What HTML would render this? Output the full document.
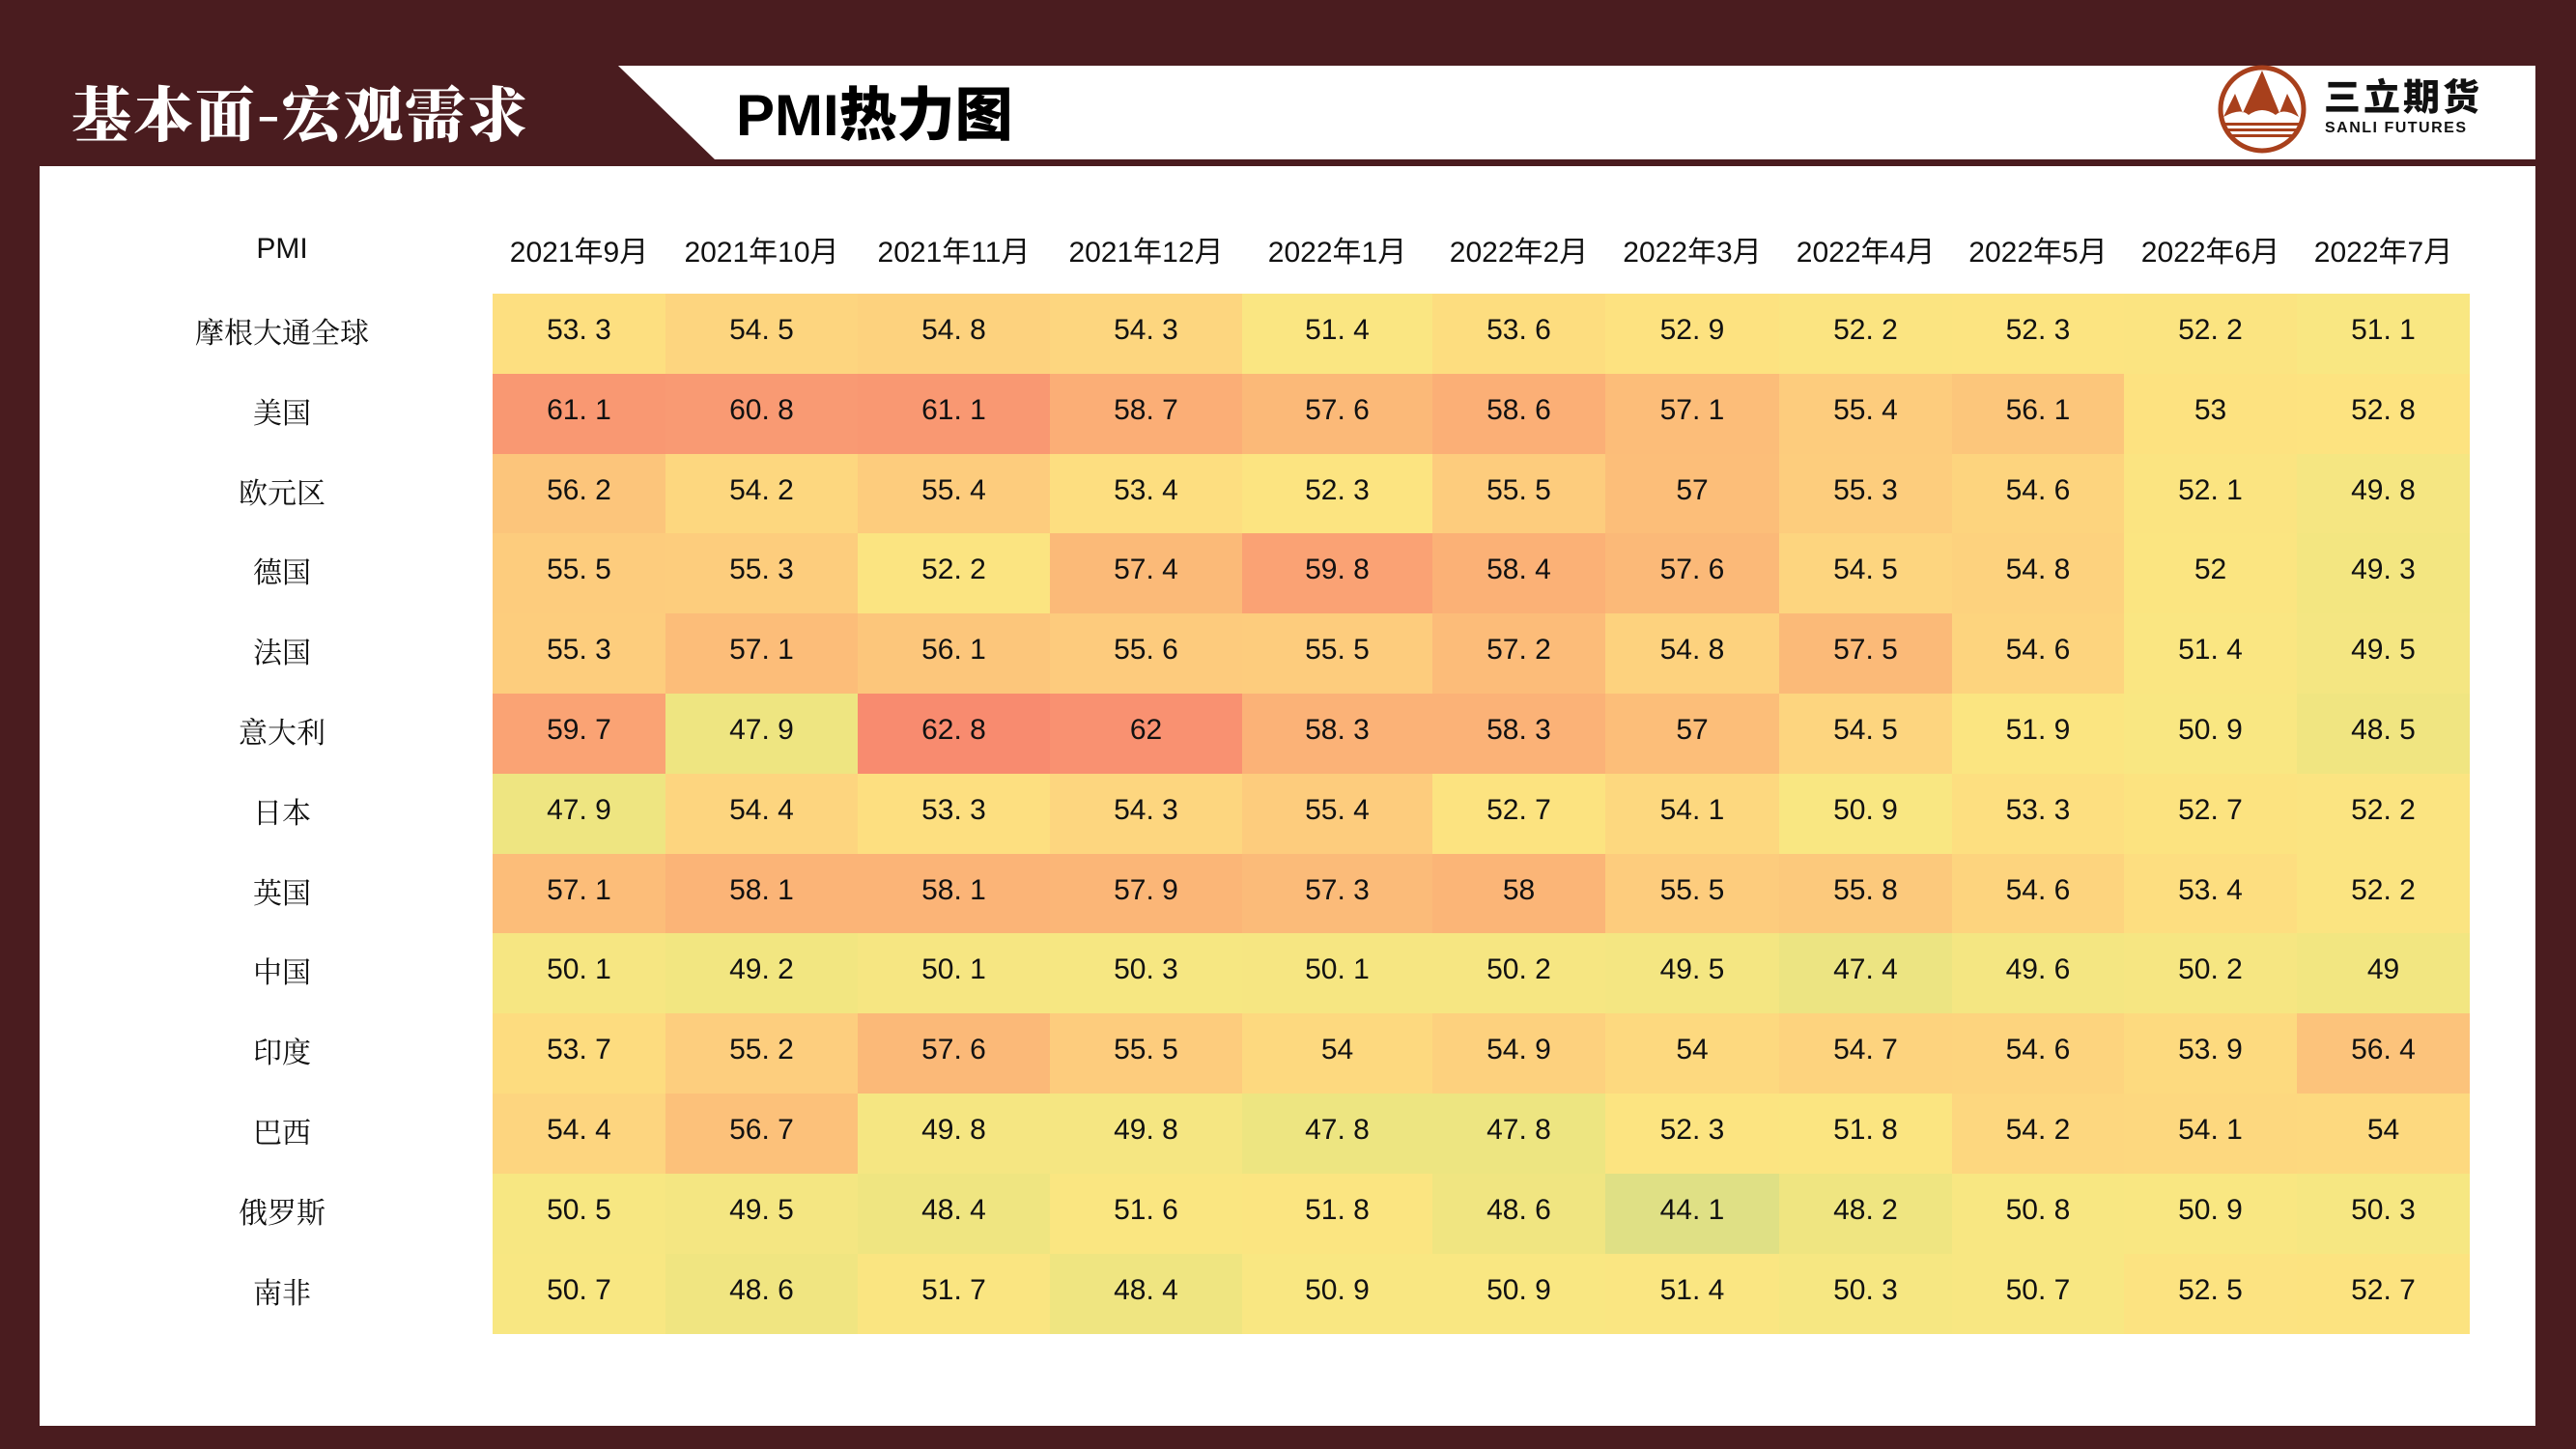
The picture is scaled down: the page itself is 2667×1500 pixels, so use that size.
<!DOCTYPE html>
<html><head><meta charset="utf-8">
<style>
body{margin:0;width:2667px;height:1500px;background:#4a1c1f;position:relative;overflow:hidden;font-family:"Liberation Sans","Noto Sans CJK SC",sans-serif;}
.panel{position:absolute;left:41px;top:172px;width:2584px;height:1304px;background:#fff;}
.band{position:absolute;left:640px;top:68px;width:1985px;height:97px;background:#fff;clip-path:polygon(0 0,100% 0,100% 100%,100px 100%);}
.t1{position:absolute;left:74px;top:70px;font-family:"Noto Serif CJK SC",serif;font-weight:900;font-size:62px;color:#fff;letter-spacing:2px;}
.t2{position:absolute;left:762px;top:71px;font-family:"Liberation Sans","Noto Sans CJK SC",sans-serif;font-weight:900;font-size:60px;color:#000;}
.c{position:absolute;text-align:center;font-size:30px;color:#111;line-height:76px;height:83px;}
.h{position:absolute;text-align:center;font-size:30px;color:#111;top:236px;}
.lab{position:absolute;left:150px;width:284px;text-align:center;font-family:"Noto Serif CJK SC",serif;font-size:30px;line-height:76px;color:#111;}
</style></head><body>
<div class="panel"></div>
<div class="band"></div>
<div class="t1">基本面-宏观需求</div>
<div class="t2">PMI热力图</div>
<svg style="position:absolute;left:2294px;top:65px" width="96" height="96" viewBox="0 0 96 96">
<circle cx="48" cy="48" r="43" fill="none" stroke="#a8401c" stroke-width="5"/>
<path d="M8 56 L20 32 L28 52 L48 8 L66 52 L74 32 L86 56 Q70 46 62 54 Q48 44 34 54 Q26 46 8 56Z" fill="#a8401c"/>
<rect x="8" y="62" width="80" height="3" fill="#a8401c"/><rect x="10" y="68" width="76" height="3" fill="#a8401c"/><rect x="14" y="74" width="68" height="3" fill="#a8401c"/>
</svg>
<div style="position:absolute;left:2406px;top:70px;font-family:'Noto Sans CJK SC',sans-serif;font-weight:900;font-size:38px;letter-spacing:3px;color:#111;">三立期货</div>
<div style="position:absolute;left:2407px;top:124px;font-weight:bold;font-size:16px;letter-spacing:1.5px;color:#111;">SANLI FUTURES</div>
<div id="t"></div>
<script>
var cols=[510,689,888,1087,1286,1483,1662,1842,2021,2199,2378,2557];
var hdr=["2021年9月","2021年10月","2021年11月","2021年12月","2022年1月","2022年2月","2022年3月","2022年4月","2022年5月","2022年6月","2022年7月"];
var labs=["摩根大通全球","美国","欧元区","德国","法国","意大利","日本","英国","中国","印度","巴西","俄罗斯","南非"];
var d=[
[53.3,54.5,54.8,54.3,51.4,53.6,52.9,52.2,52.3,52.2,51.1],
[61.1,60.8,61.1,58.7,57.6,58.6,57.1,55.4,56.1,53,52.8],
[56.2,54.2,55.4,53.4,52.3,55.5,57,55.3,54.6,52.1,49.8],
[55.5,55.3,52.2,57.4,59.8,58.4,57.6,54.5,54.8,52,49.3],
[55.3,57.1,56.1,55.6,55.5,57.2,54.8,57.5,54.6,51.4,49.5],
[59.7,47.9,62.8,62,58.3,58.3,57,54.5,51.9,50.9,48.5],
[47.9,54.4,53.3,54.3,55.4,52.7,54.1,50.9,53.3,52.7,52.2],
[57.1,58.1,58.1,57.9,57.3,58,55.5,55.8,54.6,53.4,52.2],
[50.1,49.2,50.1,50.3,50.1,50.2,49.5,47.4,49.6,50.2,49],
[53.7,55.2,57.6,55.5,54,54.9,54,54.7,54.6,53.9,56.4],
[54.4,56.7,49.8,49.8,47.8,47.8,52.3,51.8,54.2,54.1,54],
[50.5,49.5,48.4,51.6,51.8,48.6,44.1,48.2,50.8,50.9,50.3],
[50.7,48.6,51.7,48.4,50.9,50.9,51.4,50.3,50.7,52.5,52.7]];
var st=[[44,[223,224,133]],[48,[238,229,129]],[51,[249,231,130]],[53,[253,226,128]],[55,[253,208,126]],[58,[251,181,119]],[60,[250,160,116]],[63,[248,138,111]]];
function col(v){for(var i=0;i<st.length-1;i++){var a=st[i],b=st[i+1];if(v<=b[0]||i==st.length-2){var t=Math.max(0,Math.min(1,(v-a[0])/(b[0]-a[0])));return "rgb("+a[1].map(function(x,k){return Math.round(x+(b[1][k]-x)*t)}).join(",")+")";}}}
var h="";
h+='<div class="h" style="left:150px;width:284px;top:241px">PMI</div>';
for(var j=0;j<11;j++)h+='<div class="h" style="left:'+cols[j]+'px;width:'+(cols[j+1]-cols[j])+'px">'+hdr[j]+'</div>';
for(var i=0;i<13;i++){var y=304+i*82.8;
h+='<div class="lab" style="top:'+y+'px">'+labs[i]+'</div>';
for(var j=0;j<11;j++){var v=d[i][j];var s=String(v).replace(".",". ");
h+='<div class="c" style="left:'+cols[j]+'px;top:'+y+'px;width:'+(cols[j+1]-cols[j])+'px;height:83.5px;background:'+col(v)+'">'+s+'</div>';}}
document.getElementById("t").innerHTML=h;
</script>
</body></html>
